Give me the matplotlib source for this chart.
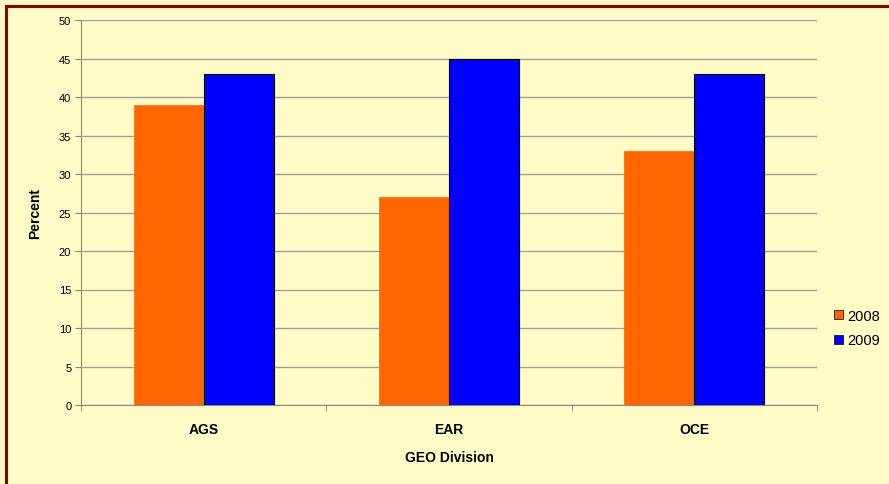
import numpy as np
import matplotlib
matplotlib.use('Agg')
import matplotlib.pyplot as plt
from matplotlib.lines import Line2D

plt.rcParams['font.family'] = ['Liberation Sans', 'DejaVu Sans']

divisions = ['AGS', 'EAR', 'OCE']
pct_2008 = [39, 27, 33]
pct_2009 = [43, 45, 43]

bg = '#FFFBC6'
fig = plt.figure(figsize=(8.89, 4.85), dpi=100, facecolor=bg)
ax = fig.add_axes([81/889, 1 - 406/485, (817 - 81)/889, (406 - 21)/485])
ax.set_facecolor(bg)

x = np.arange(len(divisions))
w = 1 / 3.5
ax.bar(x - w/2, pct_2008, w, color='#FF6600', edgecolor='#FF6600', linewidth=0.5, label='2008', zorder=3)
ax.bar(x + w/2, pct_2009, w, color='#0000FF', edgecolor='#000000', linewidth=0.8, label='2009', zorder=3)

ax.set_xlim(-0.5, 2.5)
ax.set_ylim(0, 50)
ax.set_yticks(np.arange(0, 51, 5))
ax.yaxis.grid(True, color='#A0A0A0', linewidth=1.0, zorder=0)
ax.set_axisbelow(True)

ax.set_xticks(x)
ax.set_xticklabels(divisions, fontsize=10, fontweight='bold')
ax.tick_params(axis='x', which='major', length=0, pad=12)
ax.set_xticks([-0.5, 0.5, 1.5, 2.5], minor=True)
ax.tick_params(axis='x', which='minor', length=4, color='#888888')
ax.tick_params(axis='y', length=4, color='#888888', labelsize=8, pad=3)

for s in ['top', 'right']:
    ax.spines[s].set_visible(False)
for s in ['left', 'bottom']:
    ax.spines[s].set_color('#888888')

ax.set_ylabel('Percent', fontsize=10, fontweight='bold', labelpad=12)
ax.set_xlabel('GEO Division', fontsize=10, fontweight='bold', labelpad=10)

leg = ax.legend(loc='center left', bbox_to_anchor=(1.005, 0.2), frameon=False,
                fontsize=10.5, handlelength=0.6, handleheight=0.6, handletextpad=0.3,
                labelspacing=0.75)
for h in leg.legend_handles:
    h.set_edgecolor('black')
    h.set_linewidth(0.5)

# dark red frame on top and left
fig.add_artist(Line2D([6/889, 1.0], [1 - 6.5/485, 1 - 6.5/485], color='#8B0000', lw=2.2))
fig.add_artist(Line2D([6/889, 6/889], [0.0, 1 - 6.5/485], color='#8B0000', lw=2.2))

fig.savefig('out.png', dpi=100, facecolor=bg)
